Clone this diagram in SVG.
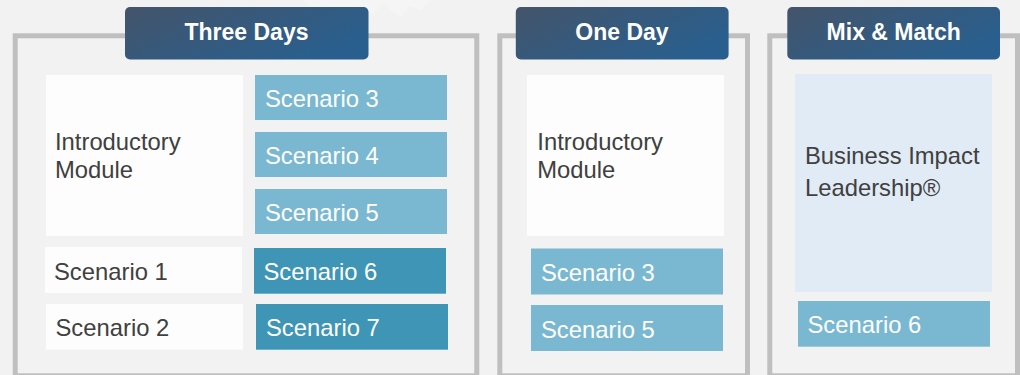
<svg xmlns="http://www.w3.org/2000/svg" width="1020" height="375" viewBox="0 0 1020 375">
  <defs>
    <linearGradient id="hdr" x1="0" y1="0" x2="1" y2="0.6">
      <stop offset="0" stop-color="#44546a"/>
      <stop offset="1" stop-color="#295f8e"/>
    </linearGradient>
    <style>
      .frame { fill: none; stroke: #bfbfbf; stroke-width: 5; }
      .hdr { fill: url(#hdr); }
      .htxt { font-family: "Liberation Sans", Arial, sans-serif; font-weight: bold; font-size: 23px; fill: #ffffff; text-anchor: middle; }
      .white { fill: #fdfdfd; }
      .light { fill: #7ab8d1; }
      .dark { fill: #3e95b6; }
      .pale { fill: #e0ebf5; }
      .t { font-family: "Liberation Sans", Arial, sans-serif; font-size: 23.8px; }
      .td { fill: #404040; }
      .tw { fill: #ffffff; }
    </style>
  </defs>
  <rect x="0" y="0" width="1020" height="375" fill="#f2f2f2"/>
  <path d="M303 0 L315 14 L330 10 L336 22 L352 22 L360 8 L372 14 L384 4 L400 18 L410 6 L420 10 L432 0 Z" fill="#f5f5f5"/>

  <g id="panel-three-days">
    <rect class="frame" x="15.2" y="35.8" width="461.6" height="340"/>
    <rect class="hdr" x="125" y="7" width="243.5" height="52.5" rx="5"/>
    <text class="htxt" x="246.5" y="39.5">Three Days</text>
  </g>
  <g id="panel-one-day">
    <rect class="frame" x="499.8" y="35.8" width="247.7" height="340"/>
    <rect class="hdr" x="515.8" y="7" width="212.8" height="52.5" rx="5"/>
    <text class="htxt" x="622" y="39.5">One Day</text>
  </g>
  <g id="panel-mix-match">
    <rect class="frame" x="769.8" y="35.8" width="247.7" height="340"/>
    <rect class="hdr" x="787.3" y="7" width="212.7" height="52.5" rx="5"/>
    <text class="htxt" x="893.7" y="39.5">Mix &amp; Match</text>
  </g>

  <g id="td-intro">
    <rect class="white" x="46" y="75" width="197" height="161"/>
    <text class="t td" x="55" y="150">Introductory</text>
    <text class="t td" x="55" y="178">Module</text>
  </g>
  <g id="td-s3">
    <rect class="light" x="255" y="75" width="192" height="45"/>
    <text class="t tw" x="265" y="107">Scenario 3</text>
  </g>
  <g id="td-s4">
    <rect class="light" x="255" y="132" width="192" height="45"/>
    <text class="t tw" x="265" y="164">Scenario 4</text>
  </g>
  <g id="td-s5">
    <rect class="light" x="255" y="189" width="192" height="45"/>
    <text class="t tw" x="265" y="221">Scenario 5</text>
  </g>
  <g id="td-s1">
    <rect class="white" x="45" y="247" width="197" height="46"/>
    <text class="t td" x="54" y="279.5">Scenario 1</text>
  </g>
  <g id="td-s6">
    <rect class="dark" x="254" y="248" width="192" height="45.7"/>
    <text class="t tw" x="263.5" y="280">Scenario 6</text>
  </g>
  <g id="td-s2">
    <rect class="white" x="46" y="304" width="197" height="45.7"/>
    <text class="t td" x="55.5" y="336">Scenario 2</text>
  </g>
  <g id="td-s7">
    <rect class="dark" x="256" y="304" width="192" height="45.7"/>
    <text class="t tw" x="266" y="336">Scenario 7</text>
  </g>

  <g id="od-intro">
    <rect class="white" x="527" y="75" width="197" height="161"/>
    <text class="t td" x="537.3" y="150">Introductory</text>
    <text class="t td" x="537.3" y="178">Module</text>
  </g>
  <g id="od-s3">
    <rect class="light" x="531" y="248.5" width="192" height="46"/>
    <text class="t tw" x="541" y="281">Scenario 3</text>
  </g>
  <g id="od-s5">
    <rect class="light" x="531" y="305" width="192" height="46"/>
    <text class="t tw" x="541" y="337.5">Scenario 5</text>
  </g>

  <g id="mm-bil">
    <rect class="pale" x="795" y="74" width="197" height="218"/>
    <text class="t td" x="805" y="164">Business Impact</text>
    <text class="t td" x="805" y="196">Leadership®</text>
  </g>
  <g id="mm-s6">
    <rect class="light" x="798" y="301" width="192" height="45.7"/>
    <text class="t tw" x="807.5" y="333">Scenario 6</text>
  </g>

  <g id="connectors"/>
</svg>
